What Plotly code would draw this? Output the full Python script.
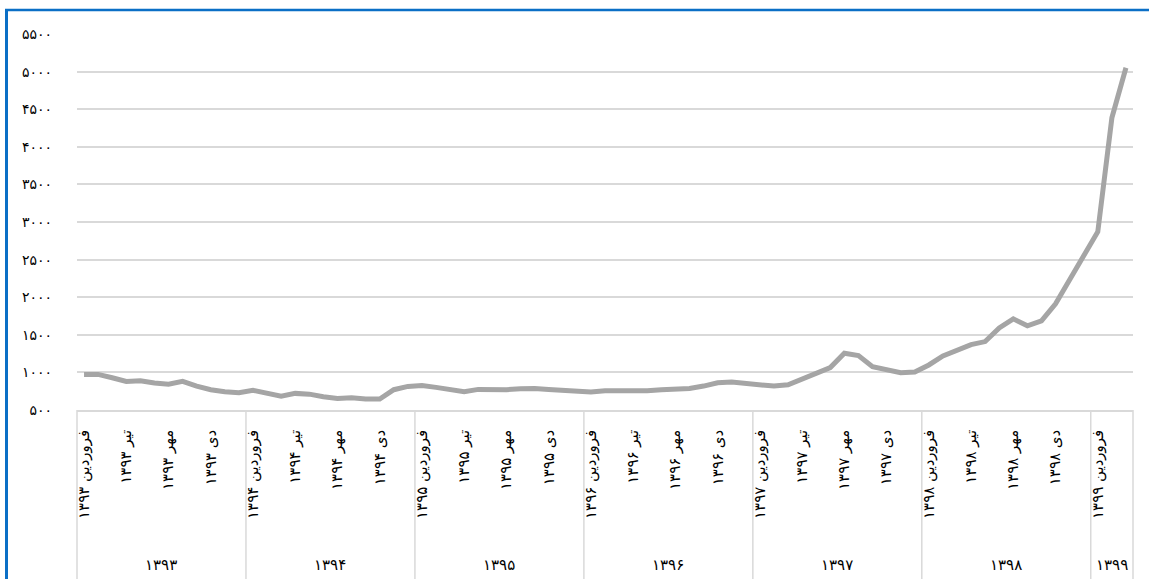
import plotly.graph_objects as go

# ---------------- data ----------------
months = ["فروردین", "اردیبهشت", "خرداد", "تیر", "مرداد", "شهریور",
          "مهر", "آبان", "آذر", "دی", "بهمن", "اسفند"]
years = [1393, 1394, 1395, 1396, 1397, 1398, 1399]
months_per_year = [12, 12, 12, 12, 12, 12, 3]

values_1393 = [973, 973, 929, 880, 890, 858, 844, 880, 818, 770, 743, 730]
values_1394 = [761, 717, 685, 721, 711, 677, 654, 664, 645, 645, 770, 814]
values_1395 = [827, 801, 774, 743, 774, 770, 770, 783, 787, 774, 757, 743]
values_1396 = [738, 757, 757, 743, 757, 770, 778, 787, 818, 863, 871, 858]
values_1397 = [844, 818, 836, 907, 987, 1065, 1255, 1224, 1077, 1033, 997, 1006]
values_1398 = [1099, 1219, 1299, 1370, 1410, 1592, 1712, 1619, 1685, 1912, 2232, 2565]
values_1399 = [2871, 4385, 5051]

y_ticks = [500, 1000, 1500, 2000, 2500, 3000, 3500, 4000, 4500, 5000, 5500]

FA = str.maketrans("0123456789", "۰۱۲۳۴۵۶۷۸۹")
def fa(n):
    return str(n).translate(FA)

values = (values_1393 + values_1394 + values_1395 + values_1396 +
          values_1397 + values_1398 + values_1399)
labels = []
for yr, cnt in zip(years, months_per_year):
    for m in range(cnt):
        labels.append(f"{months[m]} {fa(yr)}")
n = len(values)
xs = list(range(n))

# ---------------- layout geometry ----------------
W, H = 1149, 579
L, R, T, B = 77, 16, 34, 169
plot_w = W - L - R
plot_h = H - T - B

def px_x(p):   # pixel x -> paper
    return (p - L) / plot_w

def px_y(p):   # pixel y -> paper
    return (H - B - p) / plot_h

font_family = "Tahoma, DejaVu Sans, sans-serif"
grid_col = "#d9d9d9"

fig = go.Figure()
fig.add_trace(go.Scatter(
    x=xs, y=values, mode="lines",
    line=dict(color="#a5a5a5", width=5),
    hoverinfo="skip", showlegend=False,
))

tick_idx = list(range(0, n, 3))
fig.update_xaxes(
    range=[-0.5, n - 0.5],
    tickmode="array",
    tickvals=tick_idx,
    ticktext=[labels[i] for i in tick_idx],
    tickangle=-90,
    ticks="",
    showgrid=False,
    zeroline=False,
    showline=True, linecolor=grid_col, linewidth=1.5,
    tickfont=dict(family=font_family, size=15, color="#000000"),
    ticklabelstandoff=12,
    automargin=False,
)
fig.update_yaxes(
    range=[500, 5500],
    tickmode="array",
    tickvals=y_ticks,
    ticktext=[fa(v) for v in y_ticks],
    showgrid=True, gridcolor=grid_col, gridwidth=1.5,
    zeroline=False,
    showline=False,
    ticks="",
    tickfont=dict(family=font_family, size=14, color="#000000"),
    ticklabelstandoff=24,
    automargin=False,
)

shapes = []
# year separators
cum = 0
bounds = [0]
for cnt in months_per_year:
    cum += cnt
    bounds.append(cum)
for b in bounds:
    xp = b / n
    shapes.append(dict(type="line", xref="paper", yref="paper",
                       x0=xp, x1=xp, y0=0, y1=px_y(H + 2),
                       line=dict(color=grid_col, width=1.5)))

# blue frame (left and top)
blue = "#0b6fc6"
shapes.append(dict(type="line", xref="paper", yref="paper",
                   x0=px_x(6.5), x1=px_x(6.5), y0=px_y(9), y1=px_y(H + 2),
                   line=dict(color=blue, width=3)))
shapes.append(dict(type="line", xref="paper", yref="paper",
                   x0=px_x(5), x1=px_x(W + 2), y0=px_y(10), y1=px_y(10),
                   line=dict(color=blue, width=2.5)))

annotations = []
for i, yr in enumerate(years):
    xc = (bounds[i] + bounds[i + 1]) / 2 / n
    annotations.append(dict(
        x=xc, y=px_y(565), xref="paper", yref="paper",
        text=fa(yr), showarrow=False, xanchor="center", yanchor="middle",
        font=dict(family=font_family, size=15, color="#000000"),
    ))

fig.update_layout(
    width=W, height=H,
    margin=dict(l=L, r=R, t=T, b=B, autoexpand=False),
    paper_bgcolor="#ffffff", plot_bgcolor="#ffffff",
    shapes=shapes, annotations=annotations,
    showlegend=False,
)

fig.write_html("out.html")
